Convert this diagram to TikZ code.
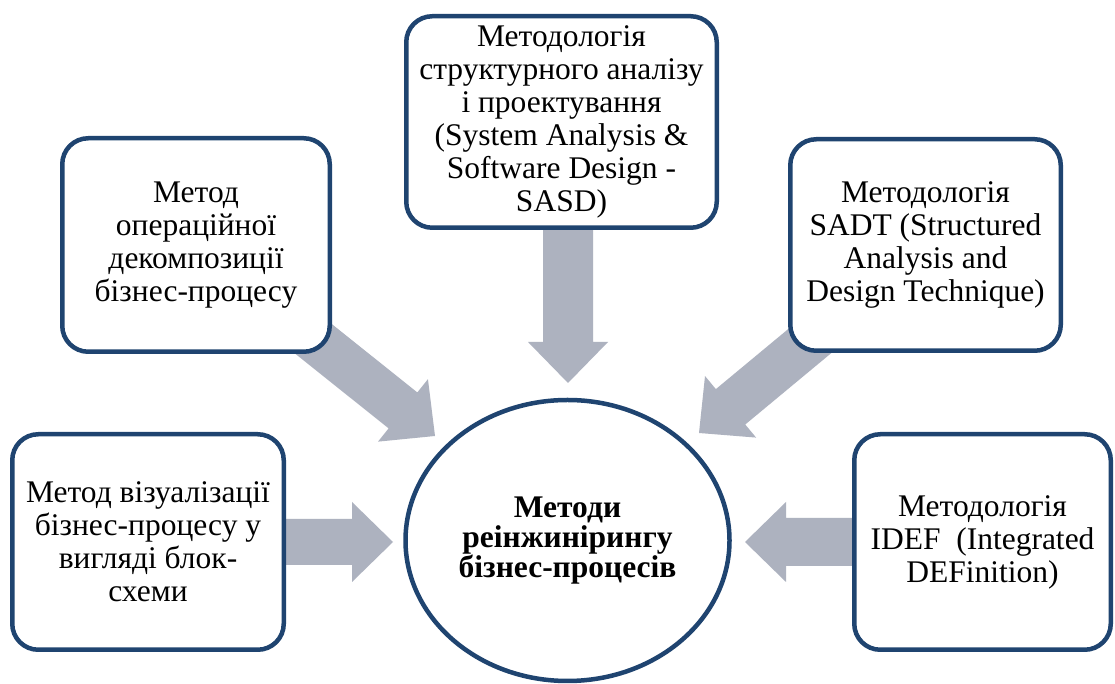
\documentclass[tikz,border=0pt]{standalone}
\usepackage{fontspec}
\setmainfont{Liberation Serif}
\usetikzlibrary{calc,shapes.geometric}
\definecolor{boxblue}{RGB}{31,68,112}
\definecolor{arrowgray}{RGB}{173,178,191}
\newcommand\blkarrow[3]{%
  \fill[arrowgray] let \p1=(#1), \p2=(#2), \n1={atan2(\y2-\y1,\x2-\x1)} in
   (\p2) -- ($(\p2)+(\n1+180:41pt)+(\n1+90:40pt)$)
   -- ($(\p2)+(\n1+180:41pt)+(\n1+90:#3)$)
   -- ($(\p1)+(\n1+90:#3)$)
   -- ($(\p1)+(\n1-90:#3)$)
   -- ($(\p2)+(\n1+180:41pt)+(\n1-90:#3)$)
   -- ($(\p2)+(\n1+180:41pt)+(\n1-90:40pt)$) -- cycle;}
\tikzset{
  mbox/.style={draw=boxblue, line width=4.5pt, fill=white, rounded corners=26pt,
    align=center, inner sep=0pt, font=\fontsize{31.5}{33}\selectfont},
  hub/.style={ellipse, draw=boxblue, line width=4.5pt, fill=white, inner sep=0pt,
    align=center, font=\fontsize{31.5}{30}\selectfont\bfseries}
}
\begin{document}
\begin{tikzpicture}[x=1pt,y=1pt]
\useasboundingbox (0,0) rectangle (1115,684);
\fill[white] (0,0) rectangle (1115,684);
% anchor coordinates
\coordinate (blC) at (148,142);
\coordinate (tlC) at (196,439);
\coordinate (topC) at (568,562);
\coordinate (trC) at (925.5,439);
\coordinate (brC) at (982.5,142);
\coordinate (tipL) at (393,142);
\coordinate (tipR) at (745,142);
\coordinate (tipT) at (568,301);
\coordinate (tipTL) at (435,248);
\coordinate (tipTR) at (699,251);
% arrows
\blkarrow{blC}{tipL}{23pt}
\blkarrow{brC}{tipR}{24pt}
\blkarrow{topC}{tipT}{25pt}
\blkarrow{tlC}{tipTL}{23pt}
\blkarrow{trC}{tipTR}{23pt}
% boxes
\node[mbox, minimum width=271.5pt, minimum height=215.5pt] (bl) at (blC)
  {Метод візуалізації\\бізнес-процесу у\\вигляді блок-\\схеми};
\node[mbox, minimum width=267.5pt, minimum height=213.5pt] (tl) at (tlC)
  {Метод\\операційної\\декомпозиції\\бізнес-процесу};
\node[mbox, minimum width=310.5pt, minimum height=211.5pt] (top) at (561.5,562)
  {Методологія\\структурного аналізу\\і проектування\\(System Analysis \&\\Software Design -\\SASD)};
\node[mbox, minimum width=270.5pt, minimum height=211.5pt] (tr) at (trC)
  {Методологія\\SADT (Structured\\Analysis and\\Design Technique)};
\node[mbox, minimum width=256.5pt, minimum height=215.5pt] (br) at (brC)
  {Методологія\\IDEF~ (Integrated\\DEFinition)};
\node[hub, minimum width=324pt, minimum height=281pt] (hub) at (567.5,143.5)
  {Методи\\реінжинірингу\\бізнес-процесів};
\end{tikzpicture}
\end{document}
